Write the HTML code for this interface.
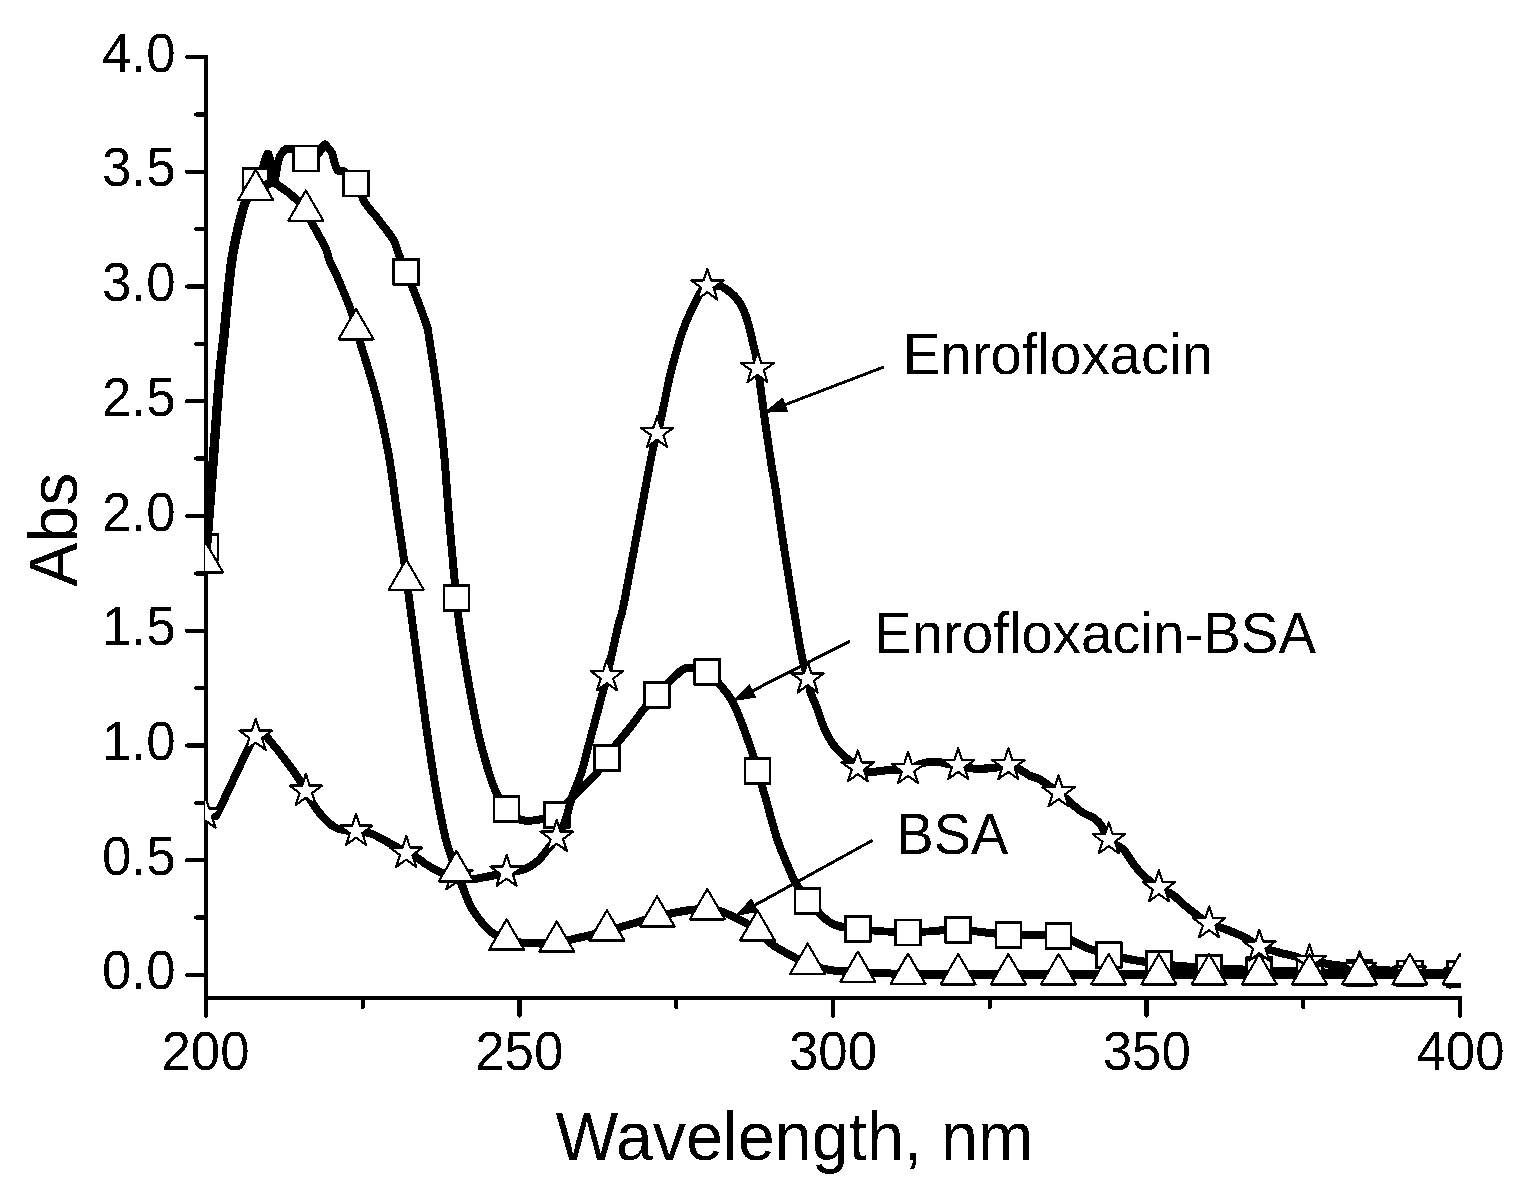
<!DOCTYPE html>
<html lang="en"><head><meta charset="utf-8"><title>UV absorption spectra</title>
<style>html,body{margin:0;padding:0;background:#fff}body{width:1528px;height:1202px}svg{display:block}</style>
</head><body>
<svg width="1528" height="1202" viewBox="0 0 1528 1202" role="img" aria-label="UV absorption spectra of Enrofloxacin, Enrofloxacin-BSA and BSA">
<defs><clipPath id="plot"><rect x="205" y="0" width="1256.3" height="996"/></clipPath>
<filter id="bw" x="0" y="0" width="1528" height="1202" filterUnits="userSpaceOnUse" color-interpolation-filters="sRGB"><feComponentTransfer><feFuncR type="discrete" tableValues="0 1"/><feFuncG type="discrete" tableValues="0 1"/><feFuncB type="discrete" tableValues="0 1"/></feComponentTransfer></filter></defs>
<g filter="url(#bw)">
<rect width="1528" height="1202" fill="#fff"/>
<g stroke="#000" stroke-width="4" stroke-linecap="butt" fill="none">
<path d="M206 55V1016"/>
<path d="M204 998H1462"/>
</g>
<g stroke="#000" stroke-width="4" stroke-linecap="round" fill="none">
<path d="M187 975.00H205"/>
<path d="M196 917.62H205"/>
<path d="M187 860.25H205"/>
<path d="M196 802.88H205"/>
<path d="M187 745.50H205"/>
<path d="M196 688.12H205"/>
<path d="M187 630.75H205"/>
<path d="M196 573.38H205"/>
<path d="M187 516.00H205"/>
<path d="M196 458.62H205"/>
<path d="M187 401.25H205"/>
<path d="M196 343.88H205"/>
<path d="M187 286.50H205"/>
<path d="M196 229.12H205"/>
<path d="M187 171.75H205"/>
<path d="M196 114.38H205"/>
<path d="M187 57.00H205"/>
<path d="M206.00 999V1015.7"/>
<path d="M362.75 999V1007"/>
<path d="M519.50 999V1015.7"/>
<path d="M676.25 999V1007"/>
<path d="M833.00 999V1015.7"/>
<path d="M989.75 999V1007"/>
<path d="M1146.50 999V1015.7"/>
<path d="M1303.25 999V1007"/>
<path d="M1460.00 999V1015.7"/>
</g>
<g clip-path="url(#plot)" stroke="#000" fill="none" stroke-linejoin="round">
<path d="M206.00 547.00C207.13 532.00 210.70 485.00 212.80 457.00C214.90 429.00 216.85 399.17 218.60 379.00C220.35 358.83 221.95 349.17 223.30 336.00C224.65 322.83 225.32 313.17 226.70 300.00C228.08 286.83 229.38 270.70 231.60 257.00C233.82 243.30 237.53 227.63 240.00 217.80C242.47 207.97 243.73 204.13 246.40 198.00C249.07 191.87 253.32 186.00 256.00 181.00C258.68 176.00 260.42 172.50 262.50 168.00C264.58 163.50 266.62 151.67 268.50 154.00C270.38 156.33 272.13 181.00 273.80 182.00C275.47 183.00 276.63 165.42 278.50 160.00C280.37 154.58 282.75 151.33 285.00 149.50C287.25 147.67 289.67 148.42 292.00 149.00C294.33 149.58 296.67 151.42 299.00 153.00C301.33 154.58 303.67 157.83 306.00 158.50C308.33 159.17 310.83 157.92 313.00 157.00C315.17 156.08 317.08 155.08 319.00 153.00C320.92 150.92 323.00 145.33 324.50 144.50C326.00 143.67 326.75 146.58 328.00 148.00C329.25 149.42 330.50 149.42 332.00 153.00C333.50 156.58 334.83 166.33 337.00 169.50C339.17 172.67 341.83 169.65 345.00 172.00C348.17 174.35 352.60 178.38 356.00 183.60C359.40 188.82 362.25 198.05 365.40 203.30C368.55 208.55 371.62 210.95 374.90 215.10C378.18 219.25 381.88 223.83 385.10 228.20C388.32 232.57 391.88 236.83 394.20 241.30C396.52 245.77 397.03 249.92 399.00 255.00C400.97 260.08 403.17 264.92 406.00 271.80C408.83 278.68 412.53 287.30 416.00 296.30C419.47 305.30 424.67 319.18 426.80 325.80C428.93 332.42 427.00 324.48 428.80 336.00C430.60 347.52 435.05 375.27 437.60 394.90C440.15 414.53 442.27 434.17 444.10 453.80C445.93 473.43 446.98 493.07 448.60 512.70C450.22 532.33 452.45 557.33 453.80 571.60C455.15 585.87 455.88 590.30 456.70 598.30C457.52 606.30 457.40 609.50 458.70 619.60C460.00 629.70 462.38 645.80 464.50 658.90C466.62 672.00 468.93 685.12 471.40 698.20C473.87 711.28 476.37 724.97 479.30 737.40C482.23 749.83 486.05 763.30 489.00 772.80C491.95 782.30 493.97 788.38 497.00 794.40C500.03 800.42 503.87 804.97 507.20 808.90C510.53 812.83 513.80 816.02 517.00 818.00C520.20 819.98 522.90 820.50 526.40 820.80C529.90 821.10 534.40 820.35 538.00 819.80C541.60 819.25 544.83 818.35 548.00 817.50C551.17 816.65 552.75 818.23 557.00 814.70C561.25 811.17 568.45 801.65 573.50 796.30C578.55 790.95 583.38 786.52 587.30 782.60C591.22 778.68 593.72 776.90 597.00 772.80C600.28 768.70 603.72 762.80 607.00 758.00C610.28 753.20 613.60 748.15 616.70 744.00C619.80 739.85 622.42 737.10 625.60 733.10C628.78 729.10 632.70 724.10 635.80 720.00C638.90 715.90 640.63 712.72 644.20 708.50C647.77 704.28 651.97 700.18 657.20 694.70C662.43 689.22 670.57 680.10 675.60 675.60C680.63 671.10 682.13 668.32 687.40 667.70C692.67 667.08 701.83 669.12 707.20 671.90C712.57 674.68 715.55 679.72 719.60 684.40C723.65 689.08 727.90 693.78 731.50 700.00C735.10 706.22 737.62 712.53 741.20 721.70C744.78 730.87 750.30 746.82 753.00 755.00C755.70 763.18 755.22 763.30 757.40 770.80C759.58 778.30 762.80 788.58 766.10 800.00C769.40 811.42 773.60 828.40 777.20 839.30C780.80 850.20 784.65 858.20 787.70 865.40C790.75 872.60 792.10 876.57 795.50 882.50C798.90 888.43 802.20 894.25 808.10 901.00C814.00 907.75 822.60 918.35 830.90 923.00C839.20 927.65 845.00 927.33 857.90 928.90C870.80 930.47 891.60 932.23 908.30 932.40C925.00 932.57 941.47 929.50 958.10 929.90C974.73 930.30 991.32 933.78 1008.10 934.80C1024.88 935.82 1045.98 933.97 1058.80 936.00C1071.62 938.03 1076.65 943.83 1085.00 947.00C1093.35 950.17 1096.57 952.17 1108.90 955.00C1121.23 957.83 1142.28 961.83 1159.00 964.00C1175.72 966.17 1192.47 967.00 1209.20 968.00C1225.93 969.00 1242.67 969.33 1259.40 970.00C1276.13 970.67 1292.88 971.50 1309.60 972.00C1326.32 972.50 1342.98 972.75 1359.70 973.00C1376.42 973.25 1393.18 973.33 1409.90 973.50C1426.62 973.67 1451.65 973.92 1460.00 974.00" stroke-width="8.0"/>
<g fill="#fff" stroke-width="2.6" stroke-linejoin="miter">
<rect x="193.00" y="534.60" width="25.0" height="25.0"/>
<rect x="243.18" y="168.20" width="25.0" height="25.0"/>
<rect x="293.36" y="146.00" width="25.0" height="25.0"/>
<rect x="343.54" y="171.10" width="25.0" height="25.0"/>
<rect x="393.72" y="259.30" width="25.0" height="25.0"/>
<rect x="443.90" y="585.80" width="25.0" height="25.0"/>
<rect x="494.08" y="796.40" width="25.0" height="25.0"/>
<rect x="544.26" y="802.20" width="25.0" height="25.0"/>
<rect x="594.44" y="745.40" width="25.0" height="25.0"/>
<rect x="644.62" y="682.20" width="25.0" height="25.0"/>
<rect x="694.80" y="659.40" width="25.0" height="25.0"/>
<rect x="744.98" y="758.30" width="25.0" height="25.0"/>
<rect x="795.16" y="888.50" width="25.0" height="25.0"/>
<rect x="845.34" y="916.40" width="25.0" height="25.0"/>
<rect x="895.52" y="919.90" width="25.0" height="25.0"/>
<rect x="945.70" y="917.40" width="25.0" height="25.0"/>
<rect x="995.88" y="922.30" width="25.0" height="25.0"/>
<rect x="1046.06" y="923.50" width="25.0" height="25.0"/>
<rect x="1096.24" y="942.50" width="25.0" height="25.0"/>
<rect x="1146.42" y="951.50" width="25.0" height="25.0"/>
<rect x="1196.60" y="955.50" width="25.0" height="25.0"/>
<rect x="1246.78" y="957.50" width="25.0" height="25.0"/>
<rect x="1296.96" y="959.50" width="25.0" height="25.0"/>
<rect x="1347.14" y="960.50" width="25.0" height="25.0"/>
<rect x="1397.32" y="961.00" width="25.0" height="25.0"/>
<rect x="1447.50" y="961.50" width="25.0" height="25.0"/>
</g>
<path d="M206.00 814.50C207.50 814.67 212.75 816.42 215.00 815.50C217.25 814.58 213.85 820.40 219.50 809.00C225.15 797.60 242.82 759.10 248.90 747.10C254.98 735.10 253.82 739.02 256.00 737.00C258.18 734.98 259.92 734.67 262.00 735.00C264.08 735.33 262.83 732.40 268.50 739.00C274.17 745.60 289.75 765.77 296.00 774.60C302.25 783.43 303.38 787.42 306.00 792.00C308.62 796.58 308.78 797.80 311.70 802.10C314.62 806.40 319.57 813.55 323.50 817.80C327.43 822.05 331.38 825.47 335.30 827.60C339.22 829.73 343.50 829.87 347.00 830.60C350.50 831.33 352.37 831.52 356.30 832.00C360.23 832.48 365.60 831.93 370.60 833.50C375.60 835.07 381.73 838.98 386.30 841.40C390.87 843.82 394.65 845.90 398.00 848.00C401.35 850.10 403.43 852.50 406.40 854.00C409.37 855.50 412.60 855.33 415.80 857.00C419.00 858.67 422.00 861.70 425.60 864.00C429.20 866.30 434.12 869.17 437.40 870.80C440.68 872.43 439.95 872.40 445.30 873.80C450.65 875.20 462.22 878.80 469.50 879.20C476.78 879.60 482.83 877.23 489.00 876.20C495.17 875.17 500.60 874.15 506.50 873.00C512.40 871.85 519.12 871.38 524.40 869.30C529.68 867.22 534.27 863.93 538.20 860.50C542.13 857.07 544.83 852.45 548.00 848.70C551.17 844.95 554.25 842.90 557.20 838.00C560.15 833.10 563.30 825.88 565.70 819.30C568.10 812.72 568.98 806.32 571.60 798.50C574.22 790.68 578.60 781.12 581.40 772.40C584.20 763.68 586.07 754.93 588.40 746.20C590.73 737.47 593.22 728.20 595.40 720.00C597.58 711.80 599.57 704.17 601.50 697.00C603.43 689.83 605.45 683.35 607.00 677.00C608.55 670.65 608.85 667.80 610.80 658.90C612.75 650.00 616.40 633.42 618.70 623.60C621.00 613.78 619.77 624.67 624.60 600.00C629.43 575.33 642.87 501.23 647.70 475.60C652.53 449.97 651.97 453.18 653.60 446.20C655.23 439.22 655.85 440.25 657.50 433.70C659.15 427.15 661.48 416.28 663.50 406.90C665.52 397.52 667.28 387.22 669.60 377.40C671.92 367.58 674.80 356.83 677.40 348.00C680.00 339.17 682.25 331.93 685.20 324.40C688.15 316.87 692.22 308.62 695.10 302.80C697.98 296.98 700.43 292.30 702.50 289.50C704.57 286.70 704.52 286.57 707.50 286.00C710.48 285.43 716.95 285.32 720.40 286.10C723.85 286.88 725.58 288.73 728.20 290.70C730.82 292.67 733.63 294.90 736.10 297.90C738.57 300.90 741.03 304.60 743.00 308.70C744.97 312.80 746.43 317.58 747.90 322.50C749.37 327.42 750.47 332.65 751.80 338.20C753.13 343.75 754.50 347.95 755.90 355.80C757.30 363.65 758.92 376.13 760.20 385.30C761.48 394.47 762.43 402.30 763.60 410.80C764.77 419.30 765.87 427.13 767.20 436.30C768.53 445.47 770.20 457.00 771.60 465.80C773.00 474.60 773.78 477.03 775.60 489.10C777.42 501.17 780.05 521.83 782.50 538.20C784.95 554.57 787.68 570.93 790.30 587.30C792.92 603.67 796.07 623.97 798.20 636.40C800.33 648.83 801.43 654.80 803.10 661.90C804.77 669.00 806.97 673.93 808.20 679.00C809.43 684.07 809.22 687.90 810.50 692.30C811.78 696.70 814.23 701.03 815.90 705.40C817.57 709.77 818.87 714.13 820.50 718.50C822.13 722.87 823.57 727.23 825.70 731.60C827.83 735.97 830.40 740.77 833.30 744.70C836.20 748.63 840.15 752.40 843.10 755.20C846.05 758.00 848.52 759.45 851.00 761.50C853.48 763.55 855.17 765.72 858.00 767.50C860.83 769.28 864.33 771.62 868.00 772.20C871.67 772.78 875.33 771.45 880.00 771.00C884.67 770.55 891.25 769.67 896.00 769.50C900.75 769.33 904.50 770.92 908.50 770.00C912.50 769.08 915.58 765.42 920.00 764.00C924.42 762.58 930.33 761.50 935.00 761.50C939.67 761.50 944.07 763.25 948.00 764.00C951.93 764.75 954.10 765.17 958.60 766.00C963.10 766.83 971.17 768.55 975.00 769.00C978.83 769.45 978.22 768.92 981.60 768.70C984.98 768.48 990.82 768.22 995.30 767.70C999.78 767.18 1005.05 765.63 1008.50 765.60C1011.95 765.57 1013.42 766.43 1016.00 767.50C1018.58 768.57 1021.58 770.58 1024.00 772.00C1026.42 773.42 1028.33 775.00 1030.50 776.00C1032.67 777.00 1034.82 777.03 1037.00 778.00C1039.18 778.97 1041.43 780.40 1043.60 781.80C1045.77 783.20 1047.47 784.58 1050.00 786.40C1052.53 788.22 1055.47 790.10 1058.80 792.70C1062.13 795.30 1066.18 798.78 1070.00 802.00C1073.82 805.22 1077.78 809.37 1081.70 812.00C1085.62 814.63 1090.22 815.52 1093.50 817.80C1096.78 820.08 1098.85 822.03 1101.40 825.70C1103.95 829.37 1105.20 835.88 1108.80 839.80C1112.40 843.72 1119.00 845.33 1123.00 849.20C1127.00 853.07 1129.53 858.73 1132.80 863.00C1136.07 867.27 1138.25 870.67 1142.60 874.80C1146.95 878.93 1154.00 884.53 1158.90 887.80C1163.80 891.07 1167.52 891.33 1172.00 894.40C1176.48 897.47 1181.87 902.93 1185.80 906.20C1189.73 909.47 1191.67 911.12 1195.60 914.00C1199.53 916.88 1203.75 920.72 1209.40 923.50C1215.05 926.28 1223.23 928.20 1229.50 930.70C1235.77 933.20 1242.00 935.90 1247.00 938.50C1252.00 941.10 1254.25 944.00 1259.50 946.30C1264.75 948.60 1272.70 950.65 1278.50 952.30C1284.30 953.95 1289.12 954.75 1294.30 956.20C1299.48 957.65 1298.65 959.03 1309.60 961.00C1320.55 962.97 1343.27 966.17 1360.00 968.00C1376.73 969.83 1393.33 971.00 1410.00 972.00C1426.67 973.00 1451.67 973.67 1460.00 974.00" stroke-width="8.0"/>
<g fill="#fff" stroke-width="2.2" stroke-linejoin="round">
<polygon points="205.50,796.90 209.34,808.72 221.76,808.72 211.71,816.02 215.55,827.83 205.50,820.53 195.45,827.83 199.29,816.02 189.24,808.72 201.66,808.72"/>
<polygon points="255.68,718.90 259.52,730.72 271.94,730.72 261.89,738.02 265.73,749.83 255.68,742.53 245.63,749.83 249.47,738.02 239.42,730.72 251.84,730.72"/>
<polygon points="305.86,773.90 309.70,785.72 322.12,785.72 312.07,793.02 315.91,804.83 305.86,797.53 295.81,804.83 299.65,793.02 289.60,785.72 302.02,785.72"/>
<polygon points="356.04,813.90 359.88,825.72 372.30,825.72 362.25,833.02 366.09,844.83 356.04,837.53 345.99,844.83 349.83,833.02 339.78,825.72 352.20,825.72"/>
<polygon points="406.22,835.90 410.06,847.72 422.48,847.72 412.43,855.02 416.27,866.83 406.22,859.53 396.17,866.83 400.01,855.02 389.96,847.72 402.38,847.72"/>
<polygon points="456.40,858.40 460.24,870.22 472.66,870.22 462.61,877.52 466.45,889.33 456.40,882.03 446.35,889.33 450.19,877.52 440.14,870.22 452.56,870.22"/>
<polygon points="506.58,854.90 510.42,866.72 522.84,866.72 512.79,874.02 516.63,885.83 506.58,878.53 496.53,885.83 500.37,874.02 490.32,866.72 502.74,866.72"/>
<polygon points="556.76,819.90 560.60,831.72 573.02,831.72 562.97,839.02 566.81,850.83 556.76,843.53 546.71,850.83 550.55,839.02 540.50,831.72 552.92,831.72"/>
<polygon points="606.94,659.40 610.78,671.22 623.20,671.22 613.15,678.52 616.99,690.33 606.94,683.03 596.89,690.33 600.73,678.52 590.68,671.22 603.10,671.22"/>
<polygon points="657.12,416.10 660.96,427.92 673.38,427.92 663.33,435.22 667.17,447.03 657.12,439.73 647.07,447.03 650.91,435.22 640.86,427.92 653.28,427.92"/>
<polygon points="707.30,268.60 711.14,280.42 723.56,280.42 713.51,287.72 717.35,299.53 707.30,292.23 697.25,299.53 701.09,287.72 691.04,280.42 703.46,280.42"/>
<polygon points="757.48,351.30 761.32,363.12 773.74,363.12 763.69,370.42 767.53,382.23 757.48,374.93 747.43,382.23 751.27,370.42 741.22,363.12 753.64,363.12"/>
<polygon points="807.66,661.60 811.50,673.42 823.92,673.42 813.87,680.72 817.71,692.53 807.66,685.23 797.61,692.53 801.45,680.72 791.40,673.42 803.82,673.42"/>
<polygon points="857.84,750.50 861.68,762.32 874.10,762.32 864.05,769.62 867.89,781.43 857.84,774.13 847.79,781.43 851.63,769.62 841.58,762.32 854.00,762.32"/>
<polygon points="908.02,752.20 911.86,764.02 924.28,764.02 914.23,771.32 918.07,783.13 908.02,775.83 897.97,783.13 901.81,771.32 891.76,764.02 904.18,764.02"/>
<polygon points="958.20,748.20 962.04,760.02 974.46,760.02 964.41,767.32 968.25,779.13 958.20,771.83 948.15,779.13 951.99,767.32 941.94,760.02 954.36,760.02"/>
<polygon points="1008.38,748.20 1012.22,760.02 1024.64,760.02 1014.59,767.32 1018.43,779.13 1008.38,771.83 998.33,779.13 1002.17,767.32 992.12,760.02 1004.54,760.02"/>
<polygon points="1058.56,775.40 1062.40,787.22 1074.82,787.22 1064.77,794.52 1068.61,806.33 1058.56,799.03 1048.51,806.33 1052.35,794.52 1042.30,787.22 1054.72,787.22"/>
<polygon points="1108.74,822.40 1112.58,834.22 1125.00,834.22 1114.95,841.52 1118.79,853.33 1108.74,846.03 1098.69,853.33 1102.53,841.52 1092.48,834.22 1104.90,834.22"/>
<polygon points="1158.92,870.40 1162.76,882.22 1175.18,882.22 1165.13,889.52 1168.97,901.33 1158.92,894.03 1148.87,901.33 1152.71,889.52 1142.66,882.22 1155.08,882.22"/>
<polygon points="1209.10,906.40 1212.94,918.22 1225.36,918.22 1215.31,925.52 1219.15,937.33 1209.10,930.03 1199.05,937.33 1202.89,925.52 1192.84,918.22 1205.26,918.22"/>
<polygon points="1259.28,929.60 1263.12,941.42 1275.54,941.42 1265.49,948.72 1269.33,960.53 1259.28,953.23 1249.23,960.53 1253.07,948.72 1243.02,941.42 1255.44,941.42"/>
<polygon points="1309.46,944.20 1313.30,956.02 1325.72,956.02 1315.67,963.32 1319.51,975.13 1309.46,967.83 1299.41,975.13 1303.25,963.32 1293.20,956.02 1305.62,956.02"/>
<polygon points="1359.64,951.20 1363.48,963.02 1375.90,963.02 1365.85,970.32 1369.69,982.13 1359.64,974.83 1349.59,982.13 1353.43,970.32 1343.38,963.02 1355.80,963.02"/>
<polygon points="1409.82,954.90 1413.66,966.72 1426.08,966.72 1416.03,974.02 1419.87,985.83 1409.82,978.53 1399.77,985.83 1403.61,974.02 1393.56,966.72 1405.98,966.72"/>
<polygon points="1460.00,956.70 1463.84,968.52 1476.26,968.52 1466.21,975.82 1470.05,987.63 1460.00,980.33 1449.95,987.63 1453.79,975.82 1443.74,968.52 1456.16,968.52"/>
</g>
<path d="M206.00 562.50C207.37 544.92 211.87 487.58 214.20 457.00C216.53 426.42 218.25 399.17 220.00 379.00C221.75 358.83 223.35 349.17 224.70 336.00C226.05 322.83 226.72 313.17 228.10 300.00C229.48 286.83 230.78 270.70 233.00 257.00C235.22 243.30 238.93 227.63 241.40 217.80C243.87 207.97 245.37 202.63 247.80 198.00C250.23 193.37 253.47 192.08 256.00 190.00C258.53 187.92 260.67 186.58 263.00 185.50C265.33 184.42 267.67 183.67 270.00 183.50C272.33 183.33 272.28 181.58 277.00 184.50C281.72 187.42 293.55 196.58 298.30 201.00C303.05 205.42 302.17 205.38 305.50 211.00C308.83 216.62 314.97 228.57 318.30 234.70C321.63 240.83 323.60 243.43 325.50 247.80C327.40 252.17 327.95 256.53 329.70 260.90C331.45 265.27 334.03 269.65 336.00 274.00C337.97 278.35 339.67 282.62 341.50 287.00C343.33 291.38 345.12 295.47 347.00 300.30C348.88 305.13 351.28 311.13 352.80 316.00C354.32 320.87 352.27 316.35 356.10 329.50C359.93 342.65 370.40 374.18 375.80 394.90C381.20 415.62 384.97 434.17 388.50 453.80C392.03 473.43 394.60 496.33 397.00 512.70C399.40 529.07 401.30 540.78 402.90 552.00C404.50 563.22 404.42 563.67 406.60 580.00C408.78 596.33 412.77 625.83 416.00 650.00C419.23 674.17 422.67 701.67 426.00 725.00C429.33 748.33 432.67 770.83 436.00 790.00C439.33 809.17 442.55 826.42 446.00 840.00C449.45 853.58 452.70 860.67 456.70 871.50C460.70 882.33 466.12 896.92 470.00 905.00C473.88 913.08 476.67 915.67 480.00 920.00C483.33 924.33 485.50 927.57 490.00 931.00C494.50 934.43 500.33 938.60 507.00 940.60C513.67 942.60 521.67 942.67 530.00 943.00C538.33 943.33 544.17 944.63 557.00 942.60C569.83 940.57 590.33 935.12 607.00 930.80C623.67 926.48 643.17 920.17 657.00 916.70C670.83 913.23 681.67 911.20 690.00 910.00C698.33 908.80 701.85 909.28 707.00 909.50C712.15 909.72 714.43 909.05 720.90 911.30C727.37 913.55 739.73 919.75 745.80 923.00C751.87 926.25 752.72 927.08 757.30 930.80C761.88 934.52 767.58 941.13 773.30 945.30C779.02 949.47 785.82 952.68 791.60 955.80C797.38 958.92 801.60 961.63 808.00 964.00C814.40 966.37 821.67 968.65 830.00 970.00C838.33 971.35 845.00 971.42 858.00 972.10C871.00 972.78 891.33 973.70 908.00 974.10C924.67 974.50 866.00 974.43 958.00 974.50C1050.00 974.57 1376.33 974.50 1460.00 974.50" stroke-width="8.0"/>
<g fill="#fff" stroke-width="2.2" stroke-linejoin="round">
<polygon points="205.50,541.99 223.00,572.30 188.00,572.30"/>
<polygon points="255.68,169.69 273.18,200.00 238.18,200.00"/>
<polygon points="305.86,190.49 323.36,220.80 288.36,220.80"/>
<polygon points="356.04,308.99 373.54,339.30 338.54,339.30"/>
<polygon points="406.22,559.49 423.72,589.80 388.72,589.80"/>
<polygon points="456.40,850.99 473.90,881.30 438.90,881.30"/>
<polygon points="506.58,919.39 524.08,949.70 489.08,949.70"/>
<polygon points="556.76,921.39 574.26,951.70 539.26,951.70"/>
<polygon points="606.94,910.29 624.44,940.60 589.44,940.60"/>
<polygon points="657.12,896.19 674.62,926.50 639.62,926.50"/>
<polygon points="707.30,888.99 724.80,919.30 689.80,919.30"/>
<polygon points="757.48,910.29 774.98,940.60 739.98,940.60"/>
<polygon points="807.66,943.49 825.16,973.80 790.16,973.80"/>
<polygon points="857.84,951.59 875.34,981.90 840.34,981.90"/>
<polygon points="908.02,953.59 925.52,983.90 890.52,983.90"/>
<polygon points="958.20,953.99 975.70,984.30 940.70,984.30"/>
<polygon points="1008.38,953.99 1025.88,984.30 990.88,984.30"/>
<polygon points="1058.56,953.99 1076.06,984.30 1041.06,984.30"/>
<polygon points="1108.74,953.99 1126.24,984.30 1091.24,984.30"/>
<polygon points="1158.92,953.99 1176.42,984.30 1141.42,984.30"/>
<polygon points="1209.10,953.99 1226.60,984.30 1191.60,984.30"/>
<polygon points="1259.28,953.99 1276.78,984.30 1241.78,984.30"/>
<polygon points="1309.46,953.99 1326.96,984.30 1291.96,984.30"/>
<polygon points="1359.64,953.99 1377.14,984.30 1342.14,984.30"/>
<polygon points="1409.82,953.99 1427.32,984.30 1392.32,984.30"/>
<polygon points="1460.00,953.99 1477.50,984.30 1442.50,984.30"/>
</g>
</g>
<path d="M884.00 366.90L785.38 404.56" stroke="#000" stroke-width="3.0" fill="none"/>
<polygon points="763.71,412.84 782.64,397.37 788.13,411.76" fill="#000"/>
<path d="M849.90 641.10L752.91 690.61" stroke="#000" stroke-width="3.0" fill="none"/>
<polygon points="732.25,701.15 749.41,683.75 756.41,697.47" fill="#000"/>
<path d="M872.60 840.20L755.01 905.04" stroke="#000" stroke-width="3.0" fill="none"/>
<polygon points="734.70,916.25 751.30,898.30 758.73,911.78" fill="#000"/>
<g font-family="'Liberation Sans', Arial, Helvetica, sans-serif" fill="#000">
<text transform="translate(175.50 988.80) scale(1 1.040)" font-size="52.8" text-anchor="end">0.0</text>
<text transform="translate(175.50 874.95) scale(1 1.040)" font-size="52.8" text-anchor="end">0.5</text>
<text transform="translate(175.50 760.20) scale(1 1.040)" font-size="52.8" text-anchor="end">1.0</text>
<text transform="translate(175.50 645.45) scale(1 1.040)" font-size="52.8" text-anchor="end">1.5</text>
<text transform="translate(175.50 530.70) scale(1 1.040)" font-size="52.8" text-anchor="end">2.0</text>
<text transform="translate(175.50 415.95) scale(1 1.040)" font-size="52.8" text-anchor="end">2.5</text>
<text transform="translate(175.50 301.20) scale(1 1.040)" font-size="52.8" text-anchor="end">3.0</text>
<text transform="translate(175.50 186.45) scale(1 1.040)" font-size="52.8" text-anchor="end">3.5</text>
<text transform="translate(175.50 71.70) scale(1 1.040)" font-size="52.8" text-anchor="end">4.0</text>
<text transform="translate(205.50 1069.50) scale(1 1.040)" font-size="52.8" text-anchor="middle">200</text>
<text transform="translate(519.25 1069.50) scale(1 1.040)" font-size="52.8" text-anchor="middle">250</text>
<text transform="translate(833.00 1069.50) scale(1 1.040)" font-size="52.8" text-anchor="middle">300</text>
<text transform="translate(1146.75 1069.50) scale(1 1.040)" font-size="52.8" text-anchor="middle">350</text>
<text transform="translate(1460.50 1069.50) scale(1 1.040)" font-size="52.8" text-anchor="middle">400</text>
<text transform="translate(794.40 1160.00) scale(1 1.030)" font-size="66.5" text-anchor="middle">Wavelength, nm</text>
<text transform="translate(77.00 529.60) rotate(-90) scale(1 1.030)" font-size="66.3" text-anchor="middle">Abs</text>
<text transform="translate(902.70 374.00) scale(1 1.030)" font-size="56.4" text-anchor="start">Enrofloxacin</text>
<text transform="translate(874.10 653.40) scale(1 1.030)" font-size="56.4" text-anchor="start">Enrofloxacin-BSA</text>
<text transform="translate(896.60 853.80) scale(1 1.040)" font-size="55.8" text-anchor="start">BSA</text>
</g>
</g>
</svg>
</body></html>
